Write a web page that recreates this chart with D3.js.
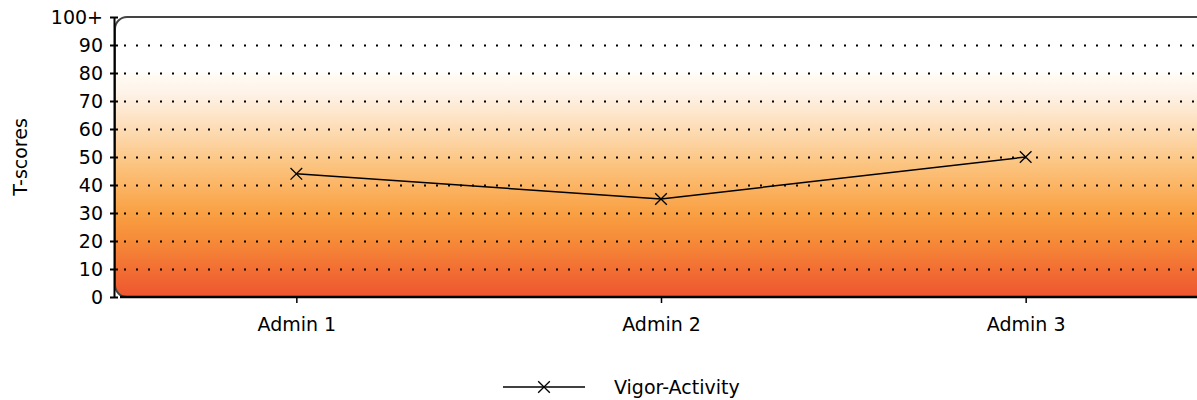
<!DOCTYPE html>
<html>
<head>
<meta charset="utf-8">
<script src="https://cdn.jsdelivr.net/npm/d3@7"></script>
<style>
  body { margin: 0; background: #fff; }
  svg text { font-family: "DejaVu Sans", "Liberation Sans", Arial, sans-serif; fill: #000; }
</style>
</head>
<body>
<script>
// chart data
var categories = ['Admin 1', 'Admin 2', 'Admin 3'];
var vigorValues = [44, 35, 50];
var yTicks = [0, 10, 20, 30, 40, 50, 60, 70, 80, 90, 100];
var yTickLabels = ['0', '10', '20', '30', '40', '50', '60', '70', '80', '90', '100+'];
var seriesName = 'Vigor-Activity';

var width = 1197;
var height = 400;
var plotLeft = 114, plotTop = 17, plotBottom = 297, plotRight = 1208;

var svg = d3.select('body').append('svg')
            .attr('width', width)
            .attr('height', height);

var x = d3.scalePoint().domain(categories).range([plotLeft, plotRight]).padding(0.5);
var y = d3.scaleLinear().domain([0, 100]).range([plotBottom, plotTop]);

// background gradient
var defs = svg.append('defs');
var grad = defs.append('linearGradient')
               .attr('id', 'bg')
               .attr('x1', 0).attr('y1', 0).attr('x2', 0).attr('y2', 1);
var stops = [
  [0, '#ffffff'], [0.19, '#ffffff'], [0.21, '#fffaf3'], [0.27, '#fef3e8'],
  [0.4, '#fddcb6'], [0.5, '#fcc98a'], [0.6, '#fbb565'], [0.7, '#f9a043'],
  [0.8, '#f68a38'], [0.9, '#f26f33'], [1, '#ee5530']
];
grad.selectAll('stop').data(stops).enter().append('stop')
    .attr('offset', function(d) { return d[0]; })
    .attr('stop-color', function(d) { return d[1]; });

svg.append('rect')
   .attr('x', plotLeft + 1).attr('y', plotTop)
   .attr('width', plotRight - plotLeft).attr('height', plotBottom - plotTop)
   .attr('rx', 12).attr('ry', 12)
   .attr('fill', 'url(#bg)')
   .attr('stroke', '#444')
   .attr('stroke-width', 2);

// dotted grid
svg.selectAll('.grid').data(yTicks.filter(function(d) { return d > 0 && d < 100; }))
   .enter().append('line')
   .attr('class', 'grid')
   .attr('x1', plotLeft + 10).attr('x2', width)
   .attr('y1', function(d) { return y(d) + 0.5; })
   .attr('y2', function(d) { return y(d) + 0.5; })
   .attr('stroke', '#000')
   .attr('stroke-width', 2)
   .attr('stroke-dasharray', '2,10');

// axes
var yAxis = svg.append('g')
   .attr('transform', 'translate(' + plotLeft + ',0)')
   .call(d3.axisLeft(y).tickValues(yTicks)
           .tickFormat(function(d, i) { return yTickLabels[i]; })
           .tickSize(4).tickSizeOuter(0).tickPadding(7));
yAxis.select('.domain').attr('stroke', '#000').attr('stroke-width', 2);
yAxis.selectAll('.tick line').attr('x2', 4).attr('x1', -4).attr('stroke-width', 2);
yAxis.selectAll('.tick text').attr('font-size', 19).attr('dy', '0.36em');

var xAxis = svg.append('g')
   .attr('transform', 'translate(0,' + plotBottom + ')')
   .call(d3.axisBottom(x).tickSize(6).tickSizeOuter(0).tickPadding(15));
xAxis.select('.domain').attr('stroke', '#000').attr('stroke-width', 2.5)
     .attr('d', 'M' + (plotLeft + 6) + ',0H' + width);
xAxis.selectAll('.tick line').attr('stroke-width', 1.5);
xAxis.selectAll('.tick text').attr('font-size', 19);

// y title
svg.append('text')
   .attr('transform', 'translate(27,157) rotate(-90)')
   .attr('text-anchor', 'middle')
   .attr('font-size', 19)
   .text('T-scores');

// series line
var line = d3.line()
             .x(function(d, i) { return x(categories[i]); })
             .y(function(d) { return y(d); });

svg.append('path')
   .datum(vigorValues)
   .attr('d', line)
   .attr('fill', 'none')
   .attr('stroke', '#000')
   .attr('stroke-width', 1.5);

var cross = d3.symbol().type(d3.symbolX).size(90);
svg.selectAll('.pt').data(vigorValues).enter().append('path')
   .attr('class', 'pt')
   .attr('transform', function(d, i) { return 'translate(' + x(categories[i]) + ',' + y(d) + ')'; })
   .attr('d', cross)
   .attr('fill', 'none')
   .attr('stroke', '#000')
   .attr('stroke-width', 1.3);

// legend
var legend = svg.append('g').attr('transform', 'translate(503,387)');
legend.append('line').attr('x1', 0).attr('x2', 82).attr('y1', 0).attr('y2', 0)
      .attr('stroke', '#000').attr('stroke-width', 1.5);
legend.append('path').attr('transform', 'translate(41,0)')
      .attr('d', d3.symbol().type(d3.symbolX).size(90))
      .attr('fill', 'none').attr('stroke', '#000').attr('stroke-width', 1.3);
legend.append('text').attr('x', 111).attr('y', 0).attr('dy', '0.36em')
      .attr('font-size', 19).text(seriesName);
</script>
</body>
</html>
